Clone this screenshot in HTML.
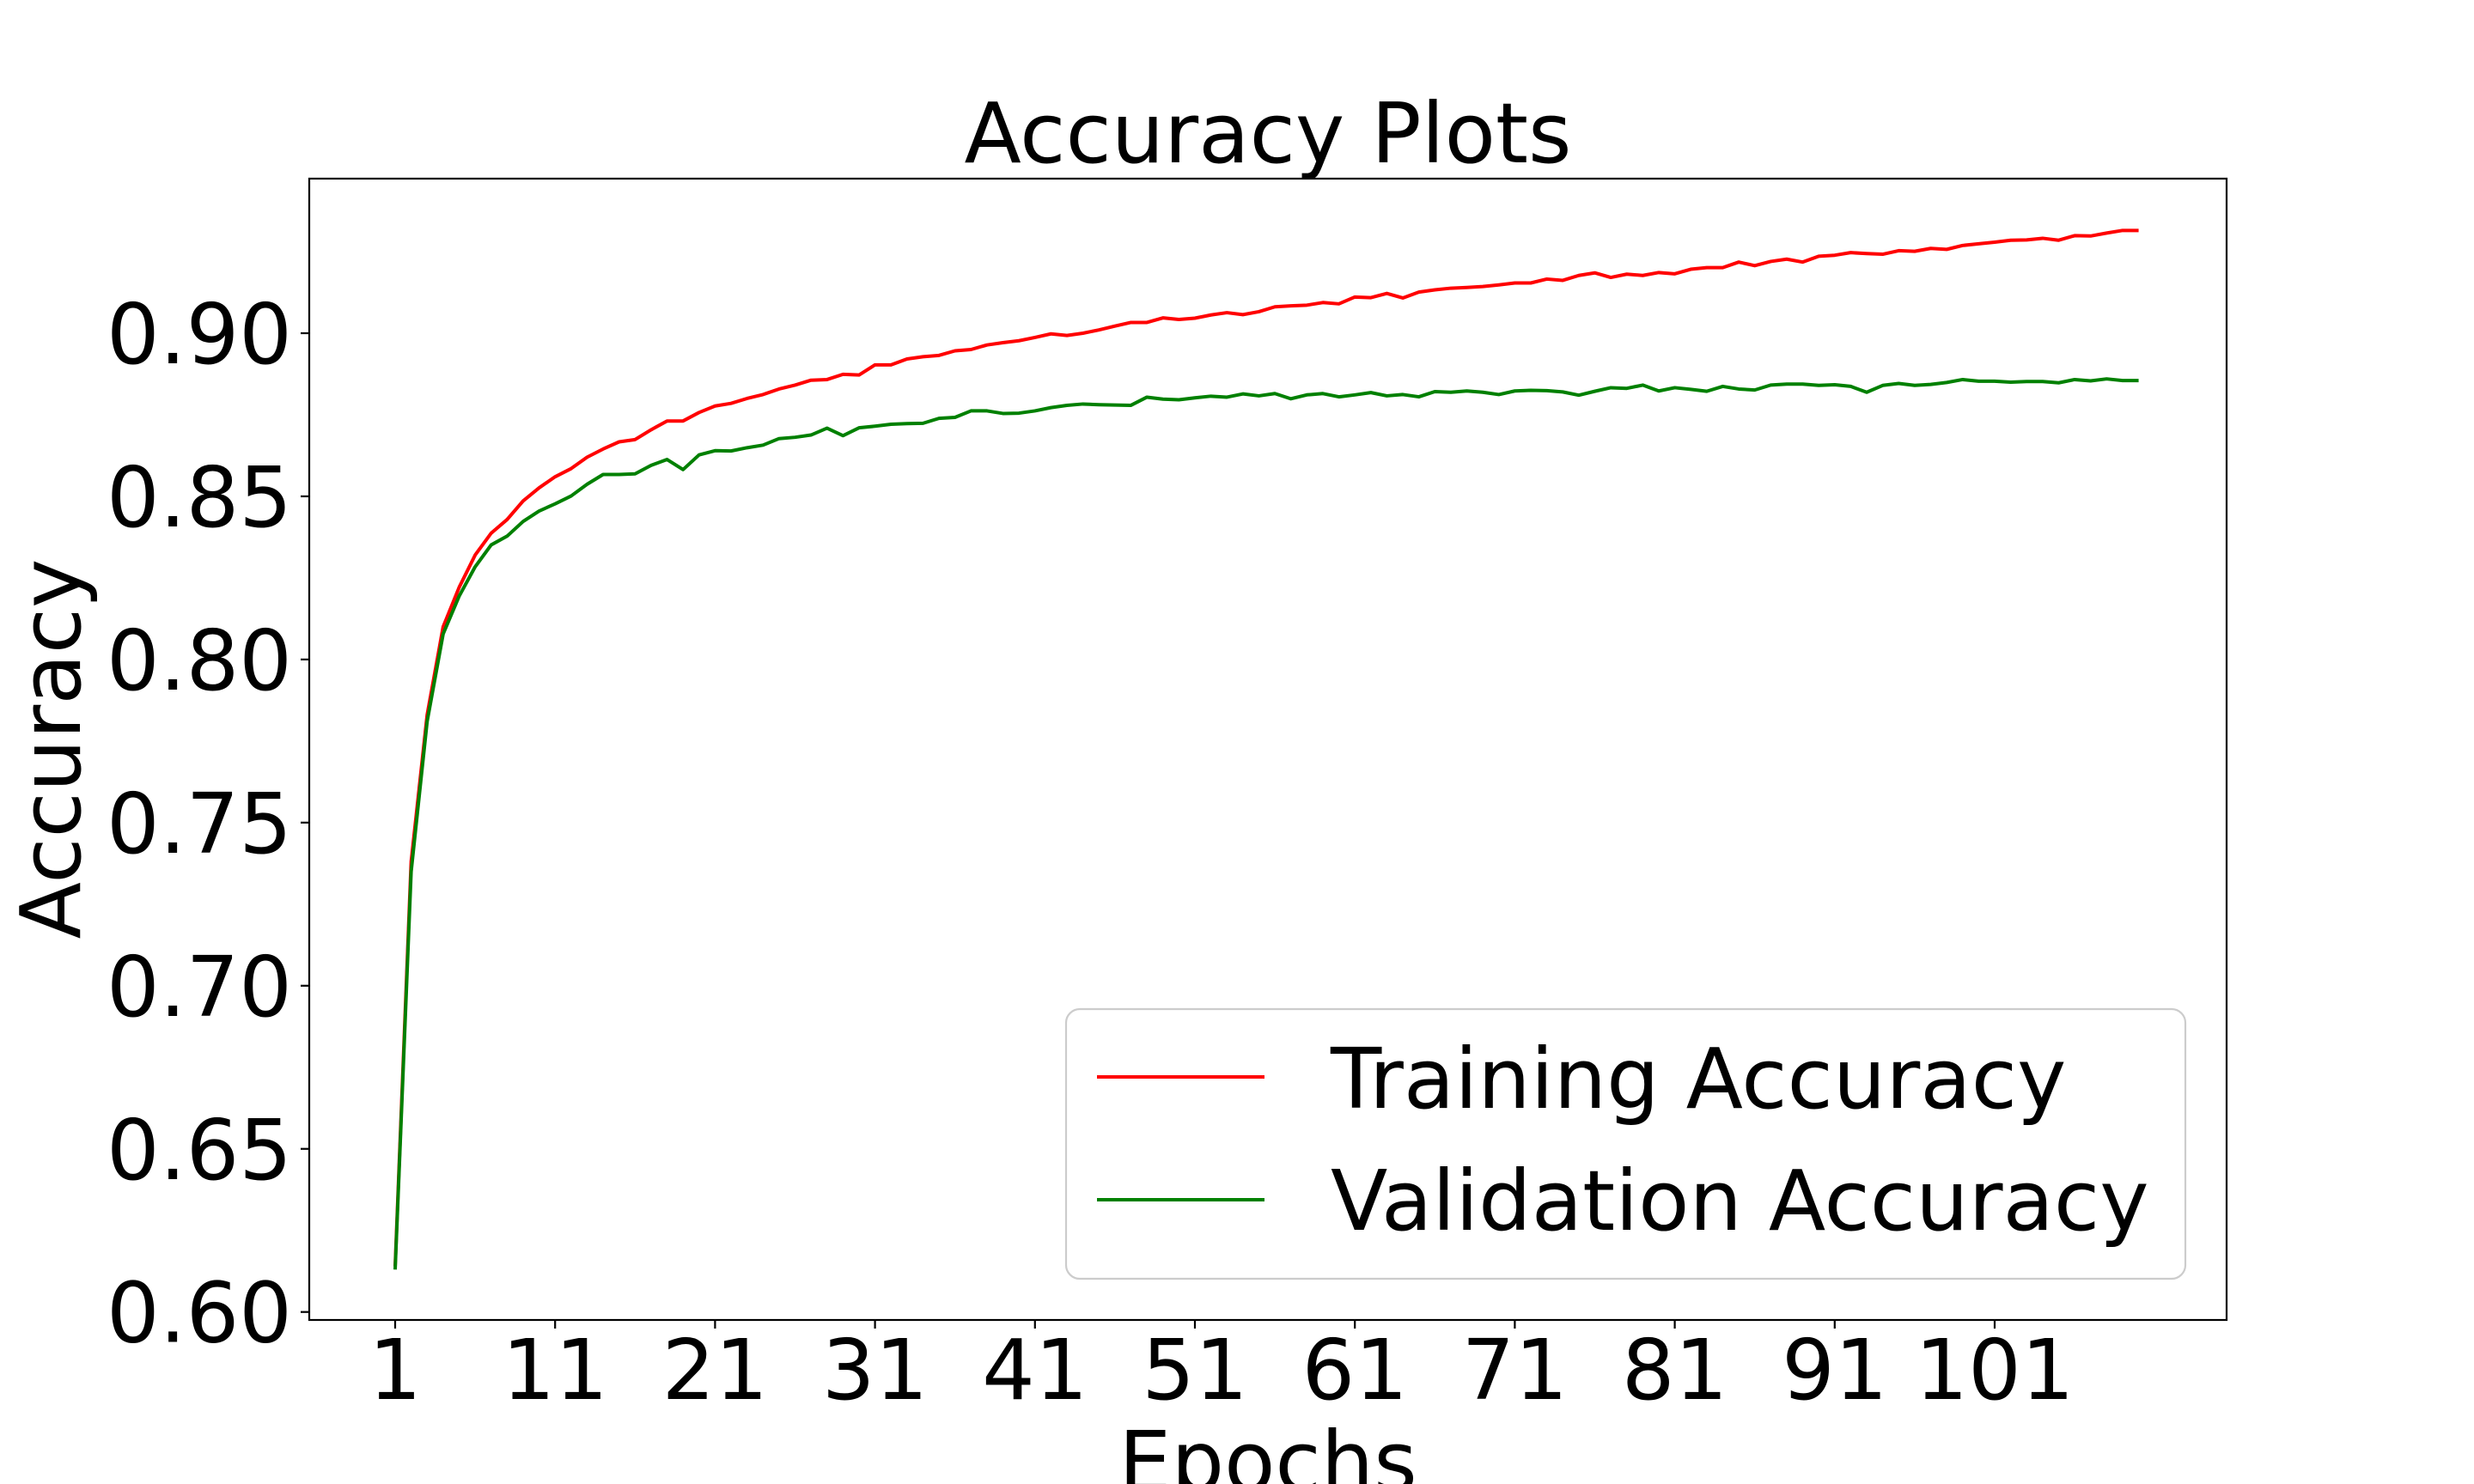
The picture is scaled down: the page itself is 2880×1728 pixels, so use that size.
<!DOCTYPE html>
<html><head><meta charset="utf-8"><title>Accuracy Plots</title>
<style>
html,body{margin:0;padding:0;background:#fff;}
svg{display:block;}
text{font-family:"DejaVu Sans","Liberation Sans",sans-serif;fill:#000;}
</style></head>
<body>
<svg id="chart" width="2880" height="1728" viewBox="0 0 2880 1728" xmlns="http://www.w3.org/2000/svg">
<rect x="0" y="0" width="2880" height="1728" fill="#fff"/>
<text x="1476" y="189" font-size="97" text-anchor="middle">Accuracy Plots</text>
<g id="plot"></g>
<rect x="360" y="208" width="2232" height="1329" fill="none" stroke="#000" stroke-width="2.2"/>
<g id="yticks"></g>
<g id="xticks"></g>
<text x="1476" y="1736" font-size="97" text-anchor="middle">Epochs</text>
<text transform="translate(93,872) rotate(-90)" font-size="97" text-anchor="middle">Accuracy</text>
<g>
<rect x="1241" y="1175" width="1303" height="314" rx="16" ry="16" fill="#fff" fill-opacity="0.8" stroke="#cccccc" stroke-width="2.2"/>
<line x1="1277" y1="1254" x2="1472" y2="1254" stroke="#ff0000" stroke-width="4"/>
<text x="1549" y="1290" font-size="97">Training Accuracy</text>
<line x1="1277" y1="1397" x2="1472" y2="1397" stroke="#008000" stroke-width="4"/>
<text x="1549" y="1432" font-size="97">Validation Accuracy</text>
</g>
</svg>
<script>
const trainAcc = [0.614,0.738,0.783,0.810,0.8221,0.8320,0.8387,0.8429,0.8486,0.8526,
0.8560,0.8585,0.8620,0.8645,0.8667,0.8674,0.8704,0.8731,0.8731,0.8757,
0.8777,0.8785,0.8800,0.8812,0.8829,0.8841,0.8856,0.8858,0.8874,0.8872,
0.8903,0.8903,0.8921,0.8928,0.8932,0.8946,0.8950,0.8964,0.8971,0.8977,
0.8987,0.8998,0.8993,0.9000,0.9010,0.9022,0.9033,0.9033,0.9047,0.9042,
0.9046,0.9056,0.9063,0.9057,0.9066,0.9081,0.9084,0.9086,0.9094,0.9090,
0.9111,0.9109,0.9122,0.9108,0.9126,0.9133,0.9138,0.9140,0.9143,0.9148,
0.9154,0.9154,0.9166,0.9162,0.9177,0.9185,0.9171,0.9181,0.9177,0.9186,
0.9182,0.9196,0.9201,0.9201,0.9218,0.9207,0.9220,0.9227,0.9218,0.9236,
0.9239,0.9247,0.9244,0.9242,0.9253,0.9251,0.9260,0.9257,0.9269,0.9274,
0.9279,0.9285,0.9286,0.9291,0.9285,0.9299,0.9298,0.9307,0.9315,0.9315];
const valAcc = [0.613,0.735,0.781,0.8078,0.8194,0.8284,0.8351,0.8378,0.8423,0.8455,
0.8477,0.8501,0.8537,0.8567,0.8567,0.8569,0.8595,0.8613,0.8582,0.8627,
0.8640,0.8639,0.8649,0.8657,0.8677,0.8681,0.8688,0.8709,0.8686,0.8710,
0.8715,0.8721,0.8723,0.8724,0.8739,0.8742,0.8762,0.8762,0.8754,0.8755,
0.8762,0.8772,0.8779,0.8783,0.8781,0.8780,0.8779,0.8804,0.8798,0.8796,
0.8802,0.8807,0.8804,0.8814,0.8808,0.8815,0.8799,0.8811,0.8815,0.8805,
0.8811,0.8818,0.8808,0.8812,0.8805,0.8821,0.8819,0.8823,0.8819,0.8812,
0.8823,0.8825,0.8824,0.8820,0.8810,0.8822,0.8833,0.8831,0.8841,0.8823,
0.8833,0.8828,0.8822,0.8837,0.8829,0.8826,0.8841,0.8844,0.8844,0.8840,
0.8842,0.8837,0.8819,0.8840,0.8846,0.8840,0.8843,0.8849,0.8858,0.8853,
0.8853,0.8850,0.8852,0.8852,0.8848,0.8858,0.8854,0.8860,0.8855,0.8855];
const yTickValues = [0.60,0.65,0.70,0.75,0.80,0.85,0.90];
const yTickLabels = ["0.60","0.65","0.70","0.75","0.80","0.85","0.90"];
const xTickValues = [1,11,21,31,41,51,61,71,81,91,101];
const xTickLabels = ["1","11","21","31","41","51","61","71","81","91","101"];

const NS = "http://www.w3.org/2000/svg";
function xScale(e){ return 460 + (e - 1) * 18.62; }
function yScale(v){ return 1527.7 - (v - 0.60) / 0.30 * (1527.7 - 388); }

const plot = document.getElementById('plot');
function drawSeries(vals, color, name){
  const pts = vals.map((v,i)=> xScale(i+1).toFixed(2)+","+yScale(v).toFixed(2)).join(" ");
  const pl = document.createElementNS(NS,'polyline');
  pl.setAttribute('points', pts);
  pl.setAttribute('fill','none');
  pl.setAttribute('stroke', color);
  pl.setAttribute('stroke-width','4');
  pl.setAttribute('stroke-linejoin','round');
  
  
  plot.appendChild(pl);
}
drawSeries(trainAcc, '#ff0000', 'training-accuracy-line');
drawSeries(valAcc, '#008000', 'validation-accuracy-line');

const yg = document.getElementById('yticks');
yTickValues.forEach((v,i)=>{
  const y = yScale(v);
  const t = document.createElementNS(NS,'line');
  t.setAttribute('x1', 350); t.setAttribute('x2', 360);
  t.setAttribute('y1', y); t.setAttribute('y2', y);
  t.setAttribute('stroke','#000'); t.setAttribute('stroke-width','2.2');
  
  
  yg.appendChild(t);
  const tx = document.createElementNS(NS,'text');
  tx.setAttribute('x', 340); tx.setAttribute('y', y + 35);
  tx.setAttribute('font-size','97'); tx.setAttribute('text-anchor','end');
  tx.textContent = yTickLabels[i];
  
  
  yg.appendChild(tx);
});
const xg = document.getElementById('xticks');
xTickValues.forEach((e,i)=>{
  const x = xScale(e);
  const t = document.createElementNS(NS,'line');
  t.setAttribute('x1', x); t.setAttribute('x2', x);
  t.setAttribute('y1', 1537); t.setAttribute('y2', 1547);
  t.setAttribute('stroke','#000'); t.setAttribute('stroke-width','2.2');
  
  
  xg.appendChild(t);
  const tx = document.createElementNS(NS,'text');
  tx.setAttribute('x', x); tx.setAttribute('y', 1629);
  tx.setAttribute('font-size','97'); tx.setAttribute('text-anchor','middle');
  tx.textContent = xTickLabels[i];
  
  
  xg.appendChild(tx);
});
</script>
</body></html>
